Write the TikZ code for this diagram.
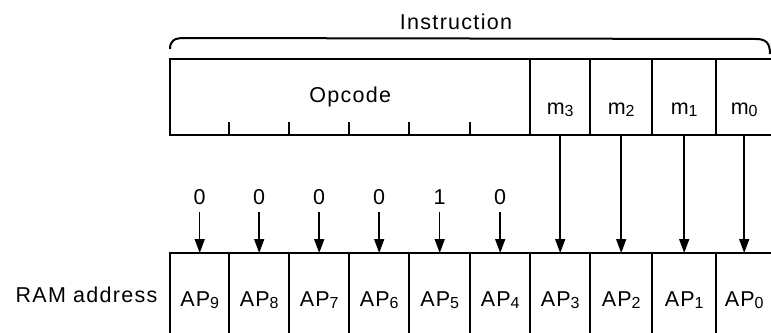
\documentclass[tikz,border=0pt]{standalone}
\usepackage{fontspec}
\setmainfont{Liberation Sans}[LetterSpace=6]
\usetikzlibrary{arrows.meta}
\newcommand\sbs[1]{\raisebox{-2pt}{\fontsize{16}{16}\selectfont #1}}
\begin{document}
\begin{tikzpicture}[x=1pt,y=-1pt,
  font=\fontsize{21.5}{24}\selectfont,
  cell/.style={inner sep=0pt, anchor=north west, minimum height=#1},
  mcell/.style={cell=76pt, text height=34pt, text depth=0pt},
  apcell/.style={cell=90pt, text height=16pt, text depth=0pt},
  outline/.style={line width=2pt},
  sep/.style={line width=1.6pt},
  arr/.style={line width=1.5pt, -{Triangle[length=14pt,width=10pt]}},
  const/.style={inner sep=0pt}]
\useasboundingbox (0,0) rectangle (771,332);
% top instruction register
\node[cell=76pt, minimum width=360pt] (op) at (170,59) {Opcode};
\node[mcell, minimum width=60pt] (m3) at (530,59) {m\sbs{3}};
\node[mcell, minimum width=62pt] (m2) at (590,59) {m\sbs{2}};
\node[mcell, minimum width=64pt] (m1) at (652,59) {m\sbs{1}};
\node[mcell, minimum width=56pt] (m0) at (716,59) {m\sbs{0}};
% bottom RAM address register
\node[apcell, minimum width=59pt] (ap9) at (170,253) {AP\sbs{9}};
\node[apcell, minimum width=60pt] (ap8) at (229,253) {AP\sbs{8}};
\node[apcell, minimum width=60pt] (ap7) at (289,253) {AP\sbs{7}};
\node[apcell, minimum width=60pt] (ap6) at (349,253) {AP\sbs{6}};
\node[apcell, minimum width=61pt] (ap5) at (409,253) {AP\sbs{5}};
\node[apcell, minimum width=60pt] (ap4) at (470,253) {AP\sbs{4}};
\node[apcell, minimum width=60pt] (ap3) at (530,253) {AP\sbs{3}};
\node[apcell, minimum width=62pt] (ap2) at (590,253) {AP\sbs{2}};
\node[apcell, minimum width=64pt] (ap1) at (652,253) {AP\sbs{1}};
\node[apcell, minimum width=56pt] (ap0) at (716,253) {AP\sbs{0}};
% labels
\node (instr) at (456,22) {Instruction};
\node[anchor=east] (ram) at ([xshift=-9pt,yshift=3pt]ap9.west) {RAM address};
% outlines
\draw[outline] ([xshift=20pt]m0.north east) -| (op.south west) -- ([xshift=20pt]m0.south east);
\foreach \c in {m3,m2,m1,m0} \draw[sep] (\c.north west) -- (\c.south west);
\foreach \c in {ap8,ap7,ap6,ap5,ap4} \draw[sep] (\c.west |- op.south) -- ++(0,-13);
\draw[outline] ([xshift=20pt]ap0.north east) -| ([yshift=-20pt]ap9.south west);
\foreach \c in {ap8,ap7,ap6,ap5,ap4,ap3,ap2,ap1,ap0} \draw[sep] (\c.north west) -- ([yshift=-20pt]\c.south west);
% brace
\draw[outline] (170,49) .. controls (170,41) and (174,38) .. (184,38) -- (756,39) .. controls (766,39) and (770,43) .. (770,54);
% constant inputs
\foreach \c/\v in {ap9/0,ap8/0,ap7/0,ap6/0,ap5/1,ap4/0} {
  \node[const] (k\c) at ([yshift=56pt]\c.north) {\v};
  \draw[arr, shorten <=7pt] (k\c) -- (\c.north);
}
% modifier bits
\foreach \a/\b in {m3/ap3,m2/ap2,m1/ap1,m0/ap0} \draw[arr] (\a.south) -- (\b.north);
\end{tikzpicture}
\end{document}
